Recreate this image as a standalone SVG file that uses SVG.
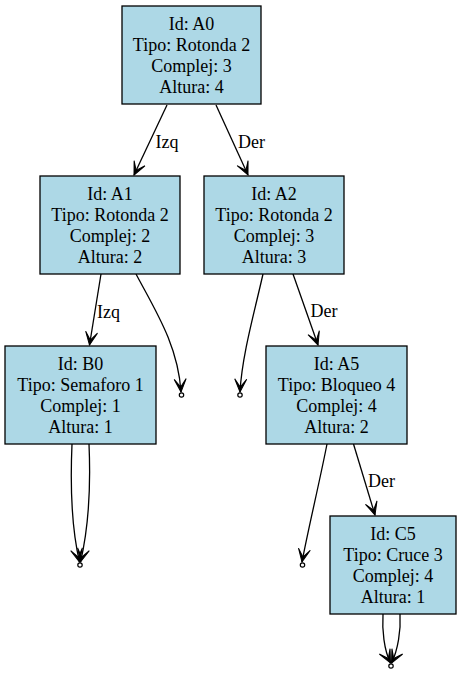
<svg xmlns="http://www.w3.org/2000/svg" width="458" height="675" viewBox="0 0 458 675">
<style>
.box{fill:#add8e6;stroke:#000;stroke-width:1.3}
.t{font-family:'Liberation Serif','Times New Roman',serif;font-size:18px;fill:#000;text-anchor:middle}
.lbl{font-family:'Liberation Serif','Times New Roman',serif;font-size:18px;fill:#000}
.e{fill:none;stroke:#000;stroke-width:1.3;marker-end:url(#vee)}
.pt{fill:#fff;stroke:#000;stroke-width:1.2}
</style>
<defs>
<marker id="vee" markerUnits="userSpaceOnUse" orient="auto" refX="0" refY="0" markerWidth="20" markerHeight="20" overflow="visible">
<path d="M0,0 L-13,-6 L-5,0 L-13,6 Z" fill="#000" stroke="#000" stroke-width="1"/>
</marker>
</defs>
<rect width="458" height="675" fill="#fff"/>
<g id="edges">
<path class="e" d="M167,105 L134,175"/>
<path class="e" d="M216,105 L248,175"/>
<path class="e" d="M101,274 L89.5,345"/>
<path class="e" d="M136,274 C155,310 178,345 181,392"/>
<path class="e" d="M263,274 C255,310 242,355 240,392"/>
<path class="e" d="M293,274 L318,345"/>
<path class="e" d="M72,444 C70,490 72,530 79.5,562"/>
<path class="e" d="M89,444 C91,490 88,530 80.5,562"/>
<path class="e" d="M327,444 C320,480 308,530 302,562"/>
<path class="e" d="M353.5,444 L375,515"/>
<path class="e" d="M383,614 C382,630 384,650 390.5,663"/>
<path class="e" d="M400,614 C401,630 398,650 391.5,663"/>
<text class="lbl" x="155.5" y="148">Izq</text>
<text class="lbl" x="238" y="148">Der</text>
<text class="lbl" x="97" y="318">Izq</text>
<text class="lbl" x="310.5" y="317">Der</text>
<text class="lbl" x="368" y="487">Der</text>
</g>
<g id="A0">
<rect class="box" x="122" y="6" width="139" height="98"/>
<text class="t" x="191.5" y="29.5">Id: A0</text>
<text class="t" x="191.5" y="50.5">Tipo: Rotonda 2</text>
<text class="t" x="191.5" y="71.5">Complej: 3</text>
<text class="t" x="191.5" y="92.5">Altura: 4</text>
</g>
<g id="A1">
<rect class="box" x="40" y="176" width="140" height="98"/>
<text class="t" x="110" y="199.5">Id: A1</text>
<text class="t" x="110" y="220.5">Tipo: Rotonda 2</text>
<text class="t" x="110" y="241.5">Complej: 2</text>
<text class="t" x="110" y="262.5">Altura: 2</text>
</g>
<g id="A2">
<rect class="box" x="204" y="176" width="140" height="98"/>
<text class="t" x="274" y="199.5">Id: A2</text>
<text class="t" x="274" y="220.5">Tipo: Rotonda 2</text>
<text class="t" x="274" y="241.5">Complej: 3</text>
<text class="t" x="274" y="262.5">Altura: 3</text>
</g>
<g id="B0">
<rect class="box" x="5" y="346" width="151" height="98"/>
<text class="t" x="80.5" y="369.5">Id: B0</text>
<text class="t" x="80.5" y="390.5">Tipo: Semaforo 1</text>
<text class="t" x="80.5" y="411.5">Complej: 1</text>
<text class="t" x="80.5" y="432.5">Altura: 1</text>
</g>
<g id="A5">
<rect class="box" x="266" y="346" width="141" height="98"/>
<text class="t" x="336.5" y="369.5">Id: A5</text>
<text class="t" x="336.5" y="390.5">Tipo: Bloqueo 4</text>
<text class="t" x="336.5" y="411.5">Complej: 4</text>
<text class="t" x="336.5" y="432.5">Altura: 2</text>
</g>
<g id="C5">
<rect class="box" x="330" y="516" width="126" height="98"/>
<text class="t" x="393" y="539.5">Id: C5</text>
<text class="t" x="393" y="560.5">Tipo: Cruce 3</text>
<text class="t" x="393" y="581.5">Complej: 4</text>
<text class="t" x="393" y="602.5">Altura: 1</text>
</g>
<g id="p1"><circle class="pt" cx="181.5" cy="395" r="2.2"/></g>
<g id="p2"><circle class="pt" cx="240" cy="395" r="2.2"/></g>
<g id="p3"><circle class="pt" cx="80" cy="565" r="2.2"/></g>
<g id="p4"><circle class="pt" cx="302.5" cy="565" r="2.2"/></g>
<g id="p5"><circle class="pt" cx="391" cy="666" r="2.2"/></g>
</svg>
